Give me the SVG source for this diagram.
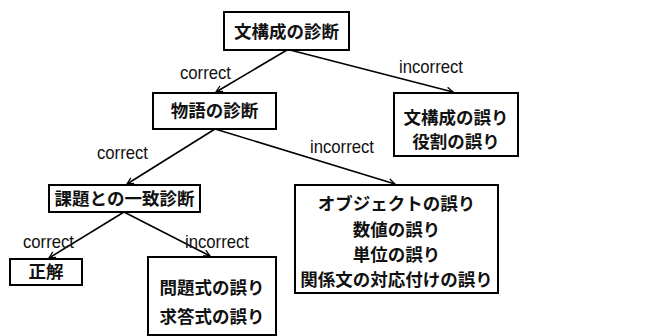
<svg xmlns="http://www.w3.org/2000/svg" width="645" height="336" viewBox="0 0 645 336">
<style>
.box{fill:#fff;stroke:#000;stroke-width:2}
.jp{font-family:"Liberation Sans","Noto Sans CJK JP",sans-serif;font-size:17.5px;font-weight:bold;text-anchor:middle;dominant-baseline:central;fill:#111}
.lbl{font-family:"Liberation Sans",Arial,sans-serif;font-size:18.5px;fill:#111}
.edge{stroke:#000;stroke-width:1.6;fill:none;marker-end:url(#arr)}
</style>
<defs>
<marker id="arr" viewBox="0 0 10 10" refX="9" refY="5" markerWidth="8" markerHeight="8" orient="auto" markerUnits="userSpaceOnUse">
<path d="M1,1 L9,5 L1,9" fill="none" stroke="#000" stroke-width="1.6"/>
</marker>
</defs>
<rect width="645" height="336" fill="#fff"/>
<g id="connectors">
<line class="edge" x1="287" y1="50" x2="216" y2="92"/>
<line class="edge" x1="290" y1="50" x2="453" y2="92"/>
<line class="edge" x1="215" y1="129" x2="127" y2="184"/>
<line class="edge" x1="215" y1="129" x2="395" y2="184"/>
<line class="edge" x1="124" y1="212" x2="49" y2="258"/>
<line class="edge" x1="124" y1="212" x2="210" y2="256"/>
<text class="lbl" x="180" y="79" textLength="51" lengthAdjust="spacingAndGlyphs">correct</text>
<text class="lbl" x="399" y="73" textLength="64" lengthAdjust="spacingAndGlyphs">incorrect</text>
<text class="lbl" x="97" y="159" textLength="51" lengthAdjust="spacingAndGlyphs">correct</text>
<text class="lbl" x="310" y="153" textLength="64" lengthAdjust="spacingAndGlyphs">incorrect</text>
<text class="lbl" x="23" y="248" textLength="51" lengthAdjust="spacingAndGlyphs">correct</text>
<text class="lbl" x="185" y="248" textLength="64" lengthAdjust="spacingAndGlyphs">incorrect</text>
</g>
<g id="n1"><rect class="box" x="224" y="12" width="125" height="38"/><text class="jp" x="286.5" y="32">文構成の診断</text></g>
<g id="n2"><rect class="box" x="153" y="93" width="123" height="36"/><text class="jp" x="214.5" y="111">物語の診断</text></g>
<g id="n3"><rect class="box" x="394" y="93" width="124" height="63"/><text class="jp" x="456" y="118">文構成の誤り</text><text class="jp" x="456" y="142">役割の誤り</text></g>
<g id="n4"><rect class="box" x="49" y="185" width="151" height="27"/><text class="jp" x="124.5" y="198.5">課題との一致診断</text></g>
<g id="n5"><rect class="box" x="295" y="185" width="203" height="108"/><text class="jp" x="396.5" y="204">オブジェクトの誤り</text><text class="jp" x="396.5" y="229.5">数値の誤り</text><text class="jp" x="396.5" y="255">単位の誤り</text><text class="jp" x="396.5" y="280">関係文の対応付けの誤り</text></g>
<g id="n6"><rect class="box" x="10" y="259" width="72" height="26"/><text class="jp" x="46" y="272">正解</text></g>
<g id="n7"><rect class="box" x="148" y="257" width="128" height="78"/><text class="jp" x="212" y="288">問題式の誤り</text><text class="jp" x="212" y="317">求答式の誤り</text></g>
</svg>
